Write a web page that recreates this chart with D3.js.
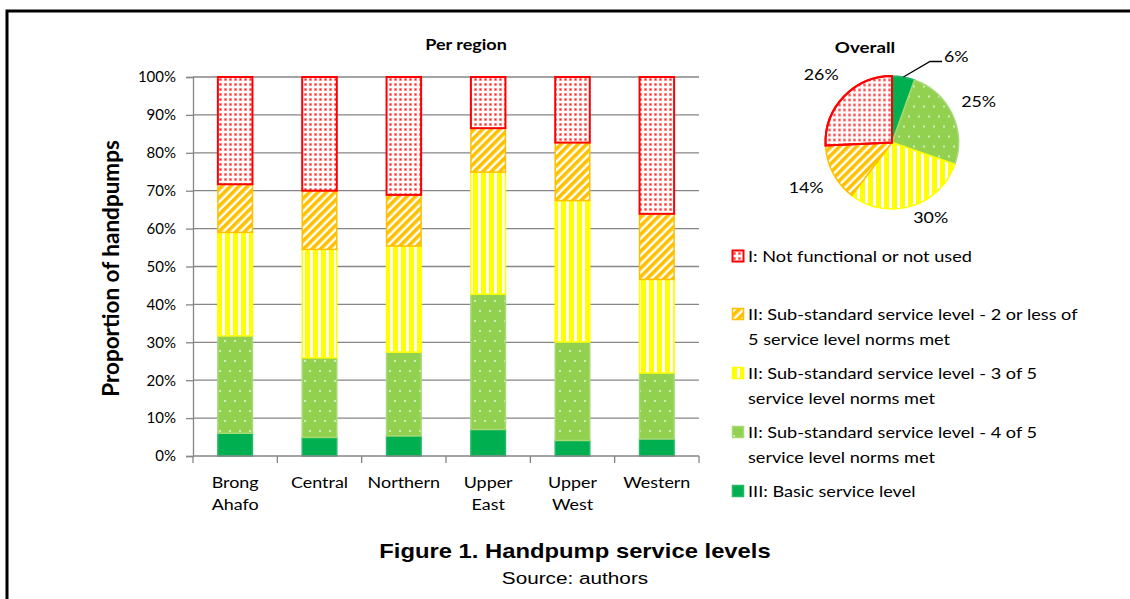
<!DOCTYPE html>
<html>
<head>
<meta charset="utf-8">
<script src="https://cdn.jsdelivr.net/npm/d3@7"></script>
<style>
  body { margin: 0; background: #fff; }
  svg { display: block; }
  .chart-text { font-family: Lato, 'Open Sans', sans-serif; fill: #000; }
  .caption { font-family: 'Liberation Sans', Arial, sans-serif; fill: #000; }
</style>
</head>
<body>
<div id="wrapper"></div>
<script>
// data
const regions = ['Brong Ahafo', 'Central', 'Northern', 'Upper East', 'Upper West', 'Western']
const basic = [6.0, 4.9, 5.3, 7.0, 4.1, 4.5]
const fourOf5 = [25.7, 21.0, 22.1, 35.7, 26.0, 17.4]
const threeOf5 = [27.3, 28.6, 28.0, 32.2, 37.3, 24.7]
const twoOrLess = [12.7, 15.5, 13.5, 11.6, 15.3, 17.3]
const notFunctional = [28.3, 30.0, 31.1, 13.5, 17.3, 36.1]

const seriesKeys = ['basic', 'four', 'three', 'two', 'notf']
const legendLabels = [
  ['I: Not functional or not used'],
  ['II: Sub-standard service level - 2 or less of', '5 service level norms met'],
  ['II: Sub-standard service level - 3 of 5', 'service level norms met'],
  ['II: Sub-standard service level - 4 of 5', 'service level norms met'],
  ['III: Basic service level']
]
const legendKeys = ['notf', 'two', 'three', 'four', 'basic']

const overallValues = [5.5, 24.8, 30.0, 14.0, 25.7]
const overallLabels = ['6%', '25%', '30%', '14%', '26%']

const yTicks = [0, 10, 20, 30, 40, 50, 60, 70, 80, 90, 100]

// 1. build table
const dataset = regions.map((r, i) => ({
  region: r,
  basic: basic[i],
  four: fourOf5[i],
  three: threeOf5[i],
  two: twoOrLess[i],
  notf: notFunctional[i]
}))

// 2. dimensions
let dimensions = {
  width: 1130,
  height: 599,
  margin: { top: 77, right: 431, bottom: 143, left: 193 }
}
dimensions.boundedWidth = dimensions.width - dimensions.margin.left - dimensions.margin.right
dimensions.boundedHeight = dimensions.height - dimensions.margin.top - dimensions.margin.bottom

const fills = {
  notf: 'url(#pRed)',
  two: 'url(#pOrange)',
  three: 'url(#pYellow)',
  four: 'url(#pGreen)',
  basic: '#00B050'
}
const strokes = {
  notf: '#FF0000',
  two: '#FFC000',
  three: '#FFFF00',
  four: '#A6DA74',
  basic: '#25B866'
}

// the text in the original is a bit wider than Lato, so stretch it sideways
const stretch = (x, y, sx) => `translate(${x}, ${y}) scale(${sx}, 1)`

// 3. canvas
const wrapper = d3.select('#wrapper')
  .append('svg')
    .attr('width', dimensions.width)
    .attr('height', dimensions.height)

// patterns
const defs = wrapper.append('defs')

const pRed = defs.append('pattern')
  .attr('id', 'pRed').attr('patternUnits', 'userSpaceOnUse')
  .attr('width', 5).attr('height', 5)
pRed.append('rect').attr('width', 5).attr('height', 5).attr('fill', '#fff')
pRed.append('rect').attr('x', 1).attr('y', 1).attr('width', 3).attr('height', 3).attr('fill', '#FF9A9A')
pRed.append('rect').attr('x', 1.8).attr('y', 1.8).attr('width', 1.4).attr('height', 1.4).attr('fill', '#FF2020')

const pOrange = defs.append('pattern')
  .attr('id', 'pOrange').attr('patternUnits', 'userSpaceOnUse')
  .attr('width', 6).attr('height', 6)
  .attr('patternTransform', 'rotate(45)')
pOrange.append('rect').attr('width', 6).attr('height', 6).attr('fill', '#fff')
pOrange.append('rect').attr('width', 3.6).attr('height', 6).attr('fill', '#FFC000')

const pYellow = defs.append('pattern')
  .attr('id', 'pYellow').attr('patternUnits', 'userSpaceOnUse')
  .attr('width', 8).attr('height', 8)
pYellow.append('rect').attr('width', 8).attr('height', 8).attr('fill', '#fff')
pYellow.append('rect').attr('width', 5).attr('height', 8).attr('fill', '#FFFF00')

const pGreen = defs.append('pattern')
  .attr('id', 'pGreen').attr('patternUnits', 'userSpaceOnUse')
  .attr('width', 10).attr('height', 20)
pGreen.append('rect').attr('width', 10).attr('height', 20).attr('fill', '#92D050')
pGreen.append('circle').attr('cx', 2).attr('cy', 4).attr('r', 1).attr('fill', '#E8F5D8')
pGreen.append('circle').attr('cx', 7).attr('cy', 14).attr('r', 1).attr('fill', '#E8F5D8')

// outer frame
wrapper.append('rect')
  .attr('x', 7).attr('y', 11)
  .attr('width', 1140).attr('height', 600)
  .attr('fill', 'none').attr('stroke', '#000').attr('stroke-width', 3)

const bounds = wrapper.append('g')
  .style('transform', `translate(${dimensions.margin.left}px, ${dimensions.margin.top}px)`)

// scales
const xScale = d3.scaleBand()
  .domain(regions)
  .range([0, dimensions.boundedWidth])
  .paddingInner(0.59)
  .paddingOuter(0.295)

const yScale = d3.scaleLinear()
  .domain([0, 100])
  .range([dimensions.boundedHeight, 0])

// gridlines
bounds.append('g')
  .selectAll('line')
  .data(yTicks.filter(d => d > 0))
  .enter().append('line')
    .attr('x1', 0).attr('x2', dimensions.boundedWidth)
    .attr('y1', d => yScale(d)).attr('y2', d => yScale(d))
    .attr('stroke', '#868686').attr('stroke-width', 1.3)

// 4. stacked bars
const stack = d3.stack().keys(seriesKeys)
const series = stack(dataset)

bounds.append('g')
  .selectAll('g')
  .data(series)
  .enter().append('g')
    .attr('fill', d => fills[d.key])
    .attr('stroke', d => strokes[d.key])
    .attr('stroke-width', d => d.key === 'notf' ? 2 : 1.5)
  .selectAll('rect')
  .data(d => d)
  .enter().append('rect')
    .attr('x', d => xScale(d.data.region))
    .attr('y', d => yScale(d[1]))
    .attr('width', xScale.bandwidth())
    .attr('height', d => yScale(d[0]) - yScale(d[1]))

// 5. axes
const yAxisGenerator = d3.axisLeft()
  .scale(yScale)
  .tickValues(yTicks)
  .tickSize(7)
  .tickFormat(d => d + '%')

const yAxis = bounds.append('g')
  .call(yAxisGenerator)
  .attr('color', '#868686')
yAxis.select('.domain').attr('stroke-width', 1.3)
yAxis.selectAll('line').attr('stroke-width', 1.3)
yAxis.selectAll('text')
  .attr('class', 'chart-text')
  .attr('x', -17)
  .style('font-size', '15px')
  .attr('fill', '#000')

// x axis: baseline and tick marks between categories
const xAxis = bounds.append('g')
  .style('transform', `translateY(${dimensions.boundedHeight}px)`)
xAxis.append('line')
  .attr('x1', 0).attr('x2', dimensions.boundedWidth)
  .attr('stroke', '#868686').attr('stroke-width', 1.3)
const step = xScale.step()
xAxis.selectAll('.tick')
  .data(d3.range(regions.length + 1))
  .enter().append('line')
    .attr('x1', i => xScale(regions[0]) - xScale.paddingOuter() * step + i * step)
    .attr('x2', i => xScale(regions[0]) - xScale.paddingOuter() * step + i * step)
    .attr('y1', 0).attr('y2', 7)
    .attr('stroke', '#868686').attr('stroke-width', 1.3)

const xLabels = xAxis.selectAll('.xlab')
  .data(regions)
  .enter().append('text')
    .attr('class', 'chart-text')
    .attr('text-anchor', 'middle')
    .style('font-size', '16px')
    .attr('transform', d => stretch(xScale(d) + xScale.bandwidth() / 2, 0, 1.12))
xLabels.selectAll('tspan')
  .data(d => d.split(' '))
  .enter().append('tspan')
    .attr('x', 0)
    .attr('y', (d, i) => 32 + i * 22)
    .text(d => d)

// axis title
bounds.append('text')
  .attr('class', 'chart-text')
  .attr('transform', `translate(${-74}, ${dimensions.boundedHeight / 2 + 2}) rotate(-90)`)
  .attr('text-anchor', 'middle')
  .style('font-size', '22.5px')
  .style('font-weight', 'bold')
  .text('Proportion of handpumps')

// chart title
wrapper.append('text')
  .attr('class', 'chart-text')
  .attr('transform', stretch(466, 50, 1.2))
  .attr('text-anchor', 'middle')
  .style('font-size', '15px')
  .style('font-weight', 'bold')
  .text('Per region')

// pie
const pieCenter = { x: 892, y: 142.5 }
const pieRadius = 66.5
const pieKeys = ['basic', 'four', 'three', 'two', 'notf']

const pieGen = d3.pie().sort(null).value(d => d)
const arcs = pieGen(overallValues)
const arcGen = d3.arc().innerRadius(0).outerRadius(pieRadius)

const pie = wrapper.append('g')
  .attr('transform', `translate(${pieCenter.x}, ${pieCenter.y})`)

pie.selectAll('path')
  .data(arcs)
  .enter().append('path')
    .attr('d', arcGen)
    .attr('fill', (d, i) => fills[pieKeys[i]])
    .attr('stroke', (d, i) => strokes[pieKeys[i]])
    .attr('stroke-width', (d, i) => pieKeys[i] === 'notf' ? 2 : 1.5)

// red slice outline on top so its border shows fully
pie.append('path')
  .attr('d', arcGen(arcs[4]))
  .attr('fill', 'none')
  .attr('stroke', '#FF0000')
  .attr('stroke-width', 2)

const labelRadius = [0, 96, 78, 97, 98]
const labelArc = i => d3.arc().innerRadius(labelRadius[i]).outerRadius(labelRadius[i])

pie.selectAll('.plabel')
  .data(arcs)
  .enter().filter((d, i) => i > 0).append('text')
    .attr('class', 'chart-text')
    .attr('text-anchor', 'middle')
    .attr('dominant-baseline', 'central')
    .style('font-size', '15.5px')
    .attr('transform', d => {
      const c = labelArc(d.index).centroid(d)
      return stretch(c[0] + (d.index === 2 ? 16 : 0), c[1], 1.15)
    })
    .text(d => overallLabels[d.index])

// leader line for the small slice
const smallMid = (arcs[0].startAngle + arcs[0].endAngle) / 2
const edge = [Math.sin(smallMid) * pieRadius, -Math.cos(smallMid) * pieRadius]
pie.append('polyline')
  .attr('points', `${edge[0]},${edge[1]} ${38},${-81} ${50},${-81}`)
  .attr('fill', 'none')
  .attr('stroke', '#000')
  .attr('stroke-width', 1.3)
pie.append('text')
  .attr('class', 'chart-text')
  .attr('transform', stretch(52, -81, 1.15))
  .style('font-size', '15.5px')
  .text(overallLabels[0])

wrapper.append('text')
  .attr('class', 'chart-text')
  .attr('transform', stretch(865, 53, 1.25))
  .attr('text-anchor', 'middle')
  .style('font-size', '15px')
  .style('font-weight', 'bold')
  .text('Overall')

// legend
const legendTop = [256, 314, 373, 432, 491]
const legend = wrapper.append('g')
  .attr('transform', 'translate(732, 0)')

legendKeys.forEach((k, i) => {
  const item = legend.append('g')
    .attr('transform', `translate(0, ${legendTop[i]})`)
  item.append('rect')
    .attr('x', 0.5).attr('y', -5.5)
    .attr('width', 11).attr('height', 11)
    .attr('fill', fills[k])
    .attr('stroke', strokes[k])
    .attr('stroke-width', k === 'notf' ? 2 : 1.5)
  item.append('text')
    .attr('class', 'chart-text')
    .attr('transform', stretch(16, 0, 1.17))
    .style('font-size', '15.5px')
    .selectAll('tspan')
    .data(legendLabels[i])
    .enter().append('tspan')
      .attr('x', 0)
      .attr('y', (d, j) => 6 + j * 25)
      .text(d => d)
})

// caption
wrapper.append('text')
  .attr('class', 'caption')
  .attr('transform', stretch(575, 558, 1.22))
  .attr('text-anchor', 'middle')
  .style('font-size', '19.5px')
  .style('font-weight', 'bold')
  .text('Figure 1. Handpump service levels')

wrapper.append('text')
  .attr('class', 'caption')
  .attr('transform', stretch(575, 584, 1.22))
  .attr('text-anchor', 'middle')
  .style('font-size', '17px')
  .text('Source: authors')
</script>
</body>
</html>
